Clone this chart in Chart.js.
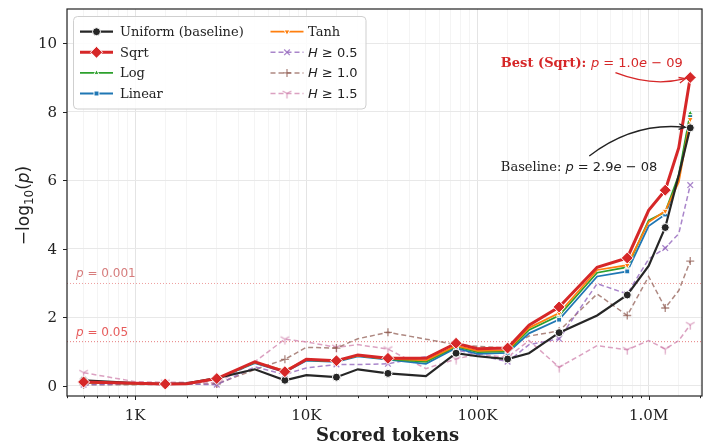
<!DOCTYPE html>
<html lang="en">
<head>
<meta charset="UTF-8" />
<title>Scored tokens vs -log10(p)</title>
<script src="https://cdn.jsdelivr.net/npm/chart.js"></script>
<style>
  body { margin: 0; background: #fff; }
  #wrap { width: 703px; height: 442px; }
</style>
</head>
<body>
<div id="wrap"><canvas id="chart" width="703" height="442"></canvas></div>
<script>
// scored tokens (x) and -log10(p) per weighting scheme
const xTokens = [500, 1000, 1500, 2000, 3000, 5000, 7500, 10000, 15000, 20000, 30000, 50000,
                 75000, 100000, 150000, 200000, 300000, 500000, 750000, 1000000, 1250000, 1500000, 1750000];
const uniform = [0.16, 0.08, 0.05, 0.07, 0.22, 0.48, 0.16, 0.31, 0.25, 0.48, 0.36, 0.28,
                 0.95, 0.86, 0.78, 0.95, 1.55, 2.05, 2.65, 3.5, 4.62, 6.15, 7.53];
const sqrt    = [0.11, 0.07, 0.05, 0.06, 0.21, 0.7, 0.41, 0.77, 0.73, 0.9, 0.8, 0.8,
                 1.24, 1.08, 1.1, 1.77, 2.3, 3.46, 3.73, 5.12, 5.71, 6.95, 9.0];
const logW    = [0.1, 0.06, 0.05, 0.06, 0.2, 0.68, 0.42, 0.75, 0.72, 0.88, 0.78, 0.7,
                 1.15, 0.98, 1.0, 1.63, 2.05, 3.3, 3.46, 4.83, 5.07, 6.15, 7.96];
const linear  = [0.1, 0.06, 0.05, 0.06, 0.2, 0.66, 0.4, 0.73, 0.7, 0.86, 0.76, 0.64,
                 1.1, 0.93, 0.96, 1.53, 1.93, 3.19, 3.34, 4.66, 5.0, 6.05, 7.88];
const tanh    = [0.1, 0.06, 0.05, 0.06, 0.2, 0.69, 0.44, 0.76, 0.73, 0.88, 0.79, 0.74,
                 1.17, 1.02, 1.04, 1.69, 2.12, 3.38, 3.52, 4.78, 5.1, 5.95, 7.78];
const h05     = [0.03, 0.05, 0.03, 0.05, 0.03, 0.55, 0.33, 0.52, 0.62, 0.62, 0.64, 0.85,
                 1.05, 0.9, 0.7, 1.2, 1.37, 2.98, 2.68, 3.7, 4.02, 4.44, 5.86];
const h10     = [0.03, 0.03, 0.05, 0.05, 0.05, 0.47, 0.77, 1.12, 1.1, 1.37, 1.56, 1.36,
                 1.2, 1.15, 1.1, 1.45, 1.6, 2.68, 2.05, 3.19, 2.27, 2.78, 3.64];
const h15     = [0.38, 0.12, 0.1, 0.1, 0.08, 0.7, 1.36, 1.28, 1.12, 1.2, 1.07, 0.5,
                 0.78, 0.92, 0.83, 1.32, 0.54, 1.17, 1.05, 1.32, 1.07, 1.32, 1.78];

const yTicks = [0, 2, 4, 6, 8, 10];
const xTickLabels = { 1000: '1K', 10000: '10K', 100000: '100K', 1000000: '1.0M' };
const pThresholds = [0.001, 0.05];

const SERIF = '"DejaVu Serif", serif';
const SANS = '"DejaVu Sans", sans-serif';

// matplotlib '1' marker (tri_down)
function triMarker(color) {
  const c = document.createElement('canvas');
  c.width = 11; c.height = 11;
  const g = c.getContext('2d');
  g.strokeStyle = color; g.lineWidth = 1.2;
  g.beginPath();
  g.moveTo(5.5, 5.5); g.lineTo(5.5, 10.5);
  g.moveTo(5.5, 5.5); g.lineTo(1.2, 3);
  g.moveTo(5.5, 5.5); g.lineTo(9.8, 3);
  g.stroke();
  return c;
}

const series = [
  { label: 'Uniform (baseline)', vals: uniform, color: '#262626', width: 2.2, marker: 'circle', size: 4, filled: true, order: 2 },
  { label: 'Sqrt', vals: sqrt, color: '#d62728', width: 3, marker: 'rectRot', size: 6, filled: true, order: 1 },
  { label: 'Log', vals: logW, color: '#2ca02c', width: 1.8, marker: 'triangle', size: 3, filled: true, order: 4 },
  { label: 'Linear', vals: linear, color: '#1f77b4', width: 1.8, marker: 'rect', size: 3.5, filled: true, order: 5 },
  { label: 'Tanh', vals: tanh, color: '#ff7f0e', width: 1.8, marker: 'triangle', rot: 180, size: 3.5, filled: true, order: 3 },
  { label: 'H ≥ 0.5', vals: h05, color: 'rgba(148,103,189,0.8)', width: 1.5, dash: [5, 3], marker: 'crossRot', size: 4, order: 6 },
  { label: 'H ≥ 1.0', vals: h10, color: 'rgba(140,86,75,0.7)', width: 1.5, dash: [5, 3], marker: 'cross', size: 4, order: 7 },
  { label: 'H ≥ 1.5', vals: h15, color: 'rgba(204,121,167,0.7)', width: 1.5, dash: [5, 3], marker: 'tri', size: 5, order: 8 }
];

const datasets = series.map(s => {
  const style = s.marker === 'tri' ? triMarker(s.color) : s.marker;
  return {
    label: s.label,
    data: xTokens.map((x, i) => ({ x, y: s.vals[i] })),
    borderColor: s.color,
    borderWidth: s.width,
    borderDash: s.dash || [],
    tension: 0,
    pointStyle: style,
    pointRotation: s.rot || 0,
    pointRadius: ctx => ctx.index % 2 === 0 ? s.size : 0,
    pointHoverRadius: 0,
    pointBackgroundColor: s.color,
    pointBorderColor: s.filled ? '#fff' : s.color,
    pointBorderWidth: s.filled ? 1 : 1.3,
    order: s.order
  };
});

function rich(ctx, parts, x, y) {
  let cx = x;
  parts.forEach(p => {
    ctx.font = p.f;
    ctx.fillText(p.t, cx, y + (p.dy || 0));
    cx += ctx.measureText(p.t).width;
  });
  return cx - x;
}
function richWidth(ctx, parts) {
  let w = 0;
  parts.forEach(p => { ctx.font = p.f; w += ctx.measureText(p.t).width; });
  return w;
}
function mathParts(size, str) {
  // p = 1.0e − 09 style
  const m = str.match(/^(.*)e(.*)$/);
  return [
    { t: 'p', f: `italic ${size}px ${SANS}` },
    { t: ' = ' + m[1], f: `${size}px ${SANS}` },
    { t: 'e', f: `italic ${size}px ${SANS}` },
    { t: ' − ' + m[2], f: `${size}px ${SANS}` }
  ];
}

function curvedArrow(ctx, x0, y0, x1, y1, rad, color) {
  const mx = (x0 + x1) / 2, my = (y0 + y1) / 2, dx = x1 - x0, dy = y1 - y0;
  const cx = mx - rad * dy, cy = my + rad * dx;
  let tx = x1 - cx, ty = y1 - cy;
  const L = Math.hypot(tx, ty); tx /= L; ty /= L;
  const ex = x1 - tx * 5, ey = y1 - ty * 5;
  ctx.save();
  ctx.strokeStyle = color; ctx.lineWidth = 1.3;
  ctx.beginPath(); ctx.moveTo(x0, y0); ctx.quadraticCurveTo(cx, cy, ex, ey); ctx.stroke();
  const a = Math.atan2(ty, tx), h = 7, w = 0.42;
  ctx.beginPath();
  ctx.moveTo(ex - h * Math.cos(a - w), ey - h * Math.sin(a - w));
  ctx.lineTo(ex, ey);
  ctx.lineTo(ex - h * Math.cos(a + w), ey - h * Math.sin(a + w));
  ctx.stroke();
  ctx.restore();
}

const decor = {
  id: 'decor',
  beforeDatasetsDraw(chart) {
    const { ctx, chartArea: a, scales: { y } } = chart;
    ctx.save();
    pThresholds.forEach((p, i) => {
      const py = y.getPixelForValue(-Math.log10(p));
      ctx.strokeStyle = i === 0 ? 'rgba(214,39,40,0.45)' : 'rgba(214,39,40,0.6)';
      ctx.lineWidth = 1;
      ctx.setLineDash([1, 2]);
      ctx.beginPath(); ctx.moveTo(a.left, py + 0.5); ctx.lineTo(a.right, py + 0.5); ctx.stroke();
      ctx.setLineDash([]);
      ctx.fillStyle = i === 0 ? 'rgba(200,80,80,0.75)' : 'rgba(225,50,50,0.8)';
      ctx.textBaseline = 'alphabetic';
      rich(ctx, [
        { t: 'p', f: `italic 12px ${SANS}` },
        { t: ' = ' + p, f: `12px ${SANS}` }
      ], a.left + 9, py - 5.5);
    });
    ctx.restore();
  },
  afterDraw(chart) {
    const { ctx, chartArea: a, scales: { x, y } } = chart;
    ctx.save();
    // frame
    ctx.strokeStyle = '#222'; ctx.lineWidth = 1.2;
    ctx.strokeRect(a.left, a.top, a.right - a.left, a.bottom - a.top);
    // x ticks + labels
    ctx.lineWidth = 1;
    x.ticks.forEach(t => {
      const v = t.value;
      const mant = v / Math.pow(10, Math.floor(Math.log10(v) + 1e-9));
      if (Math.abs(mant - Math.round(mant)) > 1e-6) return;
      const px = Math.round(x.getPixelForValue(v)) + 0.5;
      const major = Math.round(mant) === 1;
      ctx.beginPath(); ctx.moveTo(px, a.bottom); ctx.lineTo(px, a.bottom + (major ? 4 : 2.2)); ctx.stroke();
    });
    ctx.fillStyle = '#222';
    ctx.font = `15px ${SERIF}`;
    ctx.textAlign = 'center'; ctx.textBaseline = 'alphabetic';
    Object.keys(xTickLabels).forEach(k => {
      ctx.fillText(xTickLabels[k], x.getPixelForValue(+k), 419.5);
    });
    // y ticks + labels
    ctx.textAlign = 'right'; ctx.textBaseline = 'middle';
    yTicks.forEach(v => {
      const py = Math.round(y.getPixelForValue(v)) + 0.5;
      ctx.beginPath(); ctx.moveTo(a.left, py); ctx.lineTo(a.left - 4, py); ctx.stroke();
      ctx.fillText(String(v), a.left - 10, py + 1);
    });
    // axis titles
    ctx.textAlign = 'center'; ctx.textBaseline = 'alphabetic';
    ctx.font = `bold 18px ${SERIF}`;
    ctx.fillText('Scored tokens', (a.left + a.right) / 2 + 3, 441);
    const yt = [
      { t: '−log', f: `17px ${SANS}` },
      { t: '10', f: `12px ${SANS}`, dy: 4 },
      { t: '(', f: `17px ${SANS}` },
      { t: 'p', f: `italic 17px ${SANS}` },
      { t: ')', f: `17px ${SANS}` }
    ];
    ctx.save();
    ctx.translate(29, (a.top + a.bottom) / 2 + 3);
    ctx.rotate(-Math.PI / 2);
    ctx.textAlign = 'left';
    rich(ctx, yt, -richWidth(ctx, yt) / 2, 0);
    ctx.restore();

    // legend
    const lx = 73.5, ly = 16.5, lw = 292.5, lh = 92.5;
    ctx.fillStyle = 'rgba(255,255,255,0.85)';
    ctx.strokeStyle = '#cfcfcf'; ctx.lineWidth = 1;
    ctx.beginPath(); ctx.roundRect(lx, ly, lw, lh, 4); ctx.fill(); ctx.stroke();
    const cols = [{ sx: 80, tx: 120 }, { sx: 270.5, tx: 308 }];
    chart.data.datasets.forEach((ds, i) => {
      const col = cols[Math.floor(i / 4)];
      const ry = 31.7 + (i % 4) * 20.6;
      const s = series[i];
      ctx.save();
      ctx.strokeStyle = ds.borderColor; ctx.lineWidth = ds.borderWidth;
      ctx.setLineDash(ds.borderDash);
      ctx.beginPath(); ctx.moveTo(col.sx, ry); ctx.lineTo(col.sx + 33, ry); ctx.stroke();
      ctx.setLineDash([]);
      ctx.fillStyle = ds.pointBackgroundColor;
      ctx.strokeStyle = ds.pointBorderColor;
      ctx.lineWidth = ds.pointBorderWidth;
      Chart.helpers.drawPoint(ctx, {
        pointStyle: ds.pointStyle, rotation: ds.pointRotation,
        radius: s.size, borderWidth: ds.pointBorderWidth
      }, col.sx + 16.5, ry);
      ctx.restore();
      ctx.fillStyle = '#222';
      ctx.textAlign = 'left'; ctx.textBaseline = 'middle';
      if (ds.label.startsWith('H')) {
        rich(ctx, [
          { t: 'H', f: `italic 13px ${SANS}` },
          { t: ds.label.slice(1), f: `13px ${SANS}` }
        ], col.tx, ry + 1);
      } else {
        ctx.font = `13px ${SERIF}`;
        ctx.fillText(ds.label, col.tx, ry + 1);
      }
    });

    // annotations
    const best = chart.data.datasets[1].data, base = chart.data.datasets[0].data;
    const bLast = best[best.length - 1], uLast = base[base.length - 1];
    ctx.textAlign = 'left'; ctx.textBaseline = 'alphabetic';
    ctx.fillStyle = '#d62728';
    rich(ctx, [{ t: 'Best (Sqrt): ', f: `bold 13px ${SERIF}` }].concat(mathParts(13, '1.0e09')),
      x.getPixelForValue(137000), y.getPixelForValue(9.32));
    curvedArrow(ctx, x.getPixelForValue(640000), y.getPixelForValue(9.14),
      x.getPixelForValue(bLast.x), y.getPixelForValue(bLast.y), 0.16, '#d62728');
    ctx.fillStyle = '#222';
    rich(ctx, [{ t: 'Baseline: ', f: `13px ${SERIF}` }].concat(mathParts(13, '2.9e08')),
      x.getPixelForValue(137000), y.getPixelForValue(6.27));
    curvedArrow(ctx, x.getPixelForValue(450000), y.getPixelForValue(6.71),
      x.getPixelForValue(uLast.x), y.getPixelForValue(uLast.y), -0.2, '#222');
    ctx.restore();
  }
};

new Chart(document.getElementById('chart'), {
  type: 'line',
  data: { datasets },
  plugins: [decor],
  options: {
    responsive: false,
    animation: false,
    devicePixelRatio: 1,
    layout: { autoPadding: false, padding: { top: 9, right: 1, left: 0, bottom: 0 } },
    plugins: { legend: { display: false }, tooltip: { enabled: false } },
    scales: {
      x: {
        type: 'logarithmic',
        min: 400,
        max: 2.05e6,
        border: { display: false },
        grid: {
          drawTicks: false,
          color: ctx => {
            const v = ctx.tick ? ctx.tick.value : 0;
            const e = Math.log10(v);
            return Math.abs(e - Math.round(e)) < 1e-6 ? '#e4e4e4' : '#f4f4f4';
          }
        },
        ticks: { display: false, autoSkip: false },
        afterFit: s => { s.height = 46; }
      },
      y: {
        min: -0.3,
        max: 11,
        border: { display: false },
        grid: { drawTicks: false, color: '#e8e8e8' },
        ticks: { display: false },
        afterBuildTicks: s => { s.ticks = yTicks.map(v => ({ value: v })); },
        afterFit: s => { s.width = 67; }
      }
    }
  }
});
</script>
</body>
</html>
